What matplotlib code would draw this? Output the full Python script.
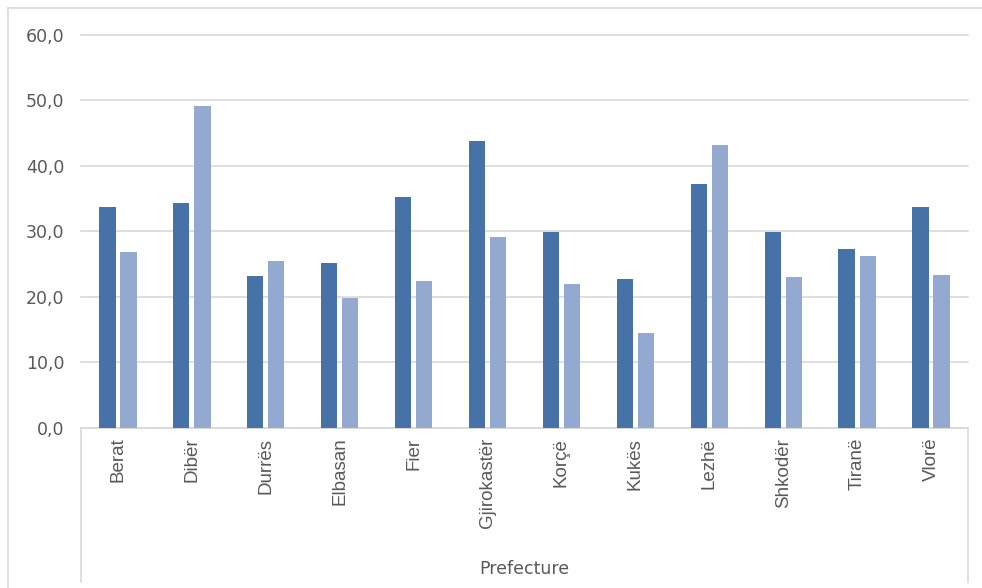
import matplotlib
matplotlib.use("Agg")
import matplotlib.pyplot as plt
from matplotlib.lines import Line2D
import numpy as np

categories = ["Berat", "Dibër", "Durrës", "Elbasan", "Fier", "Gjirokastër",
              "Korçë", "Kukës", "Lezhë", "Shkodër", "Tiranë", "Vlorë"]
series_dark = [33.7, 34.4, 23.2, 25.1, 35.2, 43.8, 29.9, 22.7, 37.2, 29.9, 27.3, 33.7]
series_light = [26.9, 49.1, 25.5, 19.9, 22.5, 29.1, 22.0, 14.5, 43.1, 23.0, 26.3, 23.4]
yticks = [0, 10, 20, 30, 40, 50, 60]
ytick_labels = ["0,0", "10,0", "20,0", "30,0", "40,0", "50,0", "60,0"]
xlabel = "Prefecture"

W, H = 982, 588
fig = plt.figure(figsize=(W / 100, H / 100), dpi=100)
fig.patch.set_facecolor("white")

left, right, bottom, top = 81 / W, 968 / W, 1 - 428 / H, 1 - 34.7 / H
ax = fig.add_axes([left, bottom, right - left, top - bottom])

x = np.arange(len(categories))
bw = 0.22
gap = 0.065
ax.bar(x - (bw + gap) / 2, series_dark, width=bw, color="#4672A8", zorder=3)
ax.bar(x + (bw + gap) / 2, series_light, width=bw, color="#93A9D0", zorder=3)

ax.set_xlim(-0.5, len(categories) - 0.5)
ax.set_ylim(0, 60)
ax.set_yticks(yticks)
ax.set_yticklabels(ytick_labels, fontsize=12.5, color="#595959", family="DejaVu Sans")
ax.yaxis.grid(True, color="#D9D9D9", linewidth=1.2, zorder=0)
for gl in ax.get_ygridlines():
    gl.set_clip_on(False)
ax.set_axisbelow(True)
ax.tick_params(axis="y", length=0, pad=12)
ax.tick_params(axis="x", length=0, pad=7)
ax.set_xticks(x)
ax.set_xticklabels(categories, rotation=90, fontsize=13.5, color="#595959",
                   family="Liberation Sans", va="top")
for s in ["top", "right", "left"]:
    ax.spines[s].set_visible(False)
ax.spines["bottom"].set_color("#D9D9D9")
ax.spines["bottom"].set_linewidth(1.2)

# category axis box lines
for xp in (81, 968):
    fig.add_artist(Line2D([xp / W, xp / W], [1 - 428 / H, 1 - 582 / H],
                          color="#D9D9D9", linewidth=1.2, transform=fig.transFigure))

# outer chart border (top and left)
fig.add_artist(Line2D([7.5 / W, 1.0], [1 - 8 / H, 1 - 8 / H], color="#D9D9D9",
                      linewidth=1.2, transform=fig.transFigure))
fig.add_artist(Line2D([7.5 / W, 7.5 / W], [1 - 8 / H, 0], color="#D9D9D9",
                      linewidth=1.2, transform=fig.transFigure))

fig.text((81 + 968) / 2 / W, 1 - 569 / H, xlabel, ha="center", va="center",
         fontsize=12.5, color="#595959", family="DejaVu Sans")

fig.savefig("out.png", dpi=100, facecolor="white")
